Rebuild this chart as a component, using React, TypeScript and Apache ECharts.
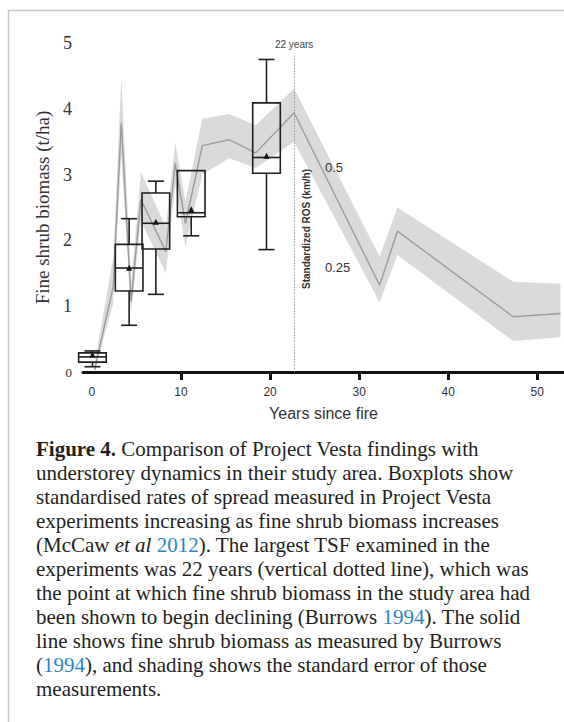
import React, { useEffect, useRef } from "react";
import * as echarts from "echarts";

// ---- axis ticks ----
const xTickLabels = [0, 10, 20, 30, 40, 50];
const xTickMarks = [10, 20, 30, 40, 50];

// ---- Burrows (1994) fine shrub biomass: line + standard error band ----
const bandYears = [0.3, 2.4, 3.3, 4.4, 5.5, 8.3, 9.35, 10.5, 12.4, 15.4, 18.4, 22.7, 32.3, 34.3, 47.3, 52.6];
const biomassMean = [0.03, 1.3, 3.78, 1.07, 2.62, 1.83, 3.17, 2.26, 3.44, 3.53, 3.33, 3.94, 1.32, 2.14, 0.84, 0.89];
const biomassUpper = [0.12, 1.75, 4.47, 1.35, 3.04, 2.2, 3.5, 2.6, 3.85, 3.92, 3.75, 4.31, 1.75, 2.5, 1.37, 1.34];
const biomassLower = [0.0, 1.05, 3.3, 0.9, 2.3, 1.5, 2.85, 1.9, 3.0, 3.25, 3.1, 3.5, 1.06, 1.78, 0.47, 0.53];

// ---- Project Vesta boxplots ----
const boxYears = [0.06, 4.18, 7.18, 11.15, 19.6];
const boxMin = [0.08, 0.71, 1.18, 2.07, 1.86];
const boxQ1 = [0.15, 1.23, 1.87, 2.36, 3.02];
const boxMedian = [0.23, 1.58, 2.26, 2.42, 3.26];
const boxQ3 = [0.29, 1.94, 2.72, 3.06, 4.09];
const boxMax = [0.32, 2.33, 2.9, 3.06, 4.75];
const boxMean = [0.25, 1.57, 2.27, 2.46, 3.27];

const dottedLineYear = 22.7;
const dottedLineTop = 4.84;

const captionLines = [
  "{b|Figure 4.} Comparison of Project Vesta findings with",
  "understorey dynamics in their study area. Boxplots show",
  "standardised rates of spread measured in Project Vesta",
  "experiments increasing as fine shrub biomass increases",
  "(McCaw {i|et al} {l|2012}). The largest TSF examined in the",
  "experiments was 22 years (vertical dotted line), which was",
  "the point at which fine shrub biomass in the study area had",
  "been shown to begin declining (Burrows {l|1994}). The solid",
  "line shows fine shrub biomass as measured by Burrows",
  "({l|1994}), and shading shows the standard error of those",
  "measurements.",
];

const BOX_W = 3.1;
const CAP_W = 1.8;
const SERIF = "Liberation Serif";
const SANS = "Liberation Sans";

export default function App() {
  const ref = useRef<HTMLDivElement>(null);

  useEffect(() => {
    document.body.style.margin = "0";
    const chart = echarts.init(ref.current!, null, { renderer: "svg" });

    const bandData = bandYears.map((t, i) => [t, biomassLower[i], biomassUpper[i]]);
    const meanData = bandYears.map((t, i) => [t, biomassMean[i]]);
    const boxData = boxYears.map((t, i) => [
      t,
      boxMin[i],
      boxQ1[i],
      boxMedian[i],
      boxQ3[i],
      boxMax[i],
      boxMean[i],
    ]);

    const capFont = 21;
    const rich = {
      b: { fontFamily: SERIF, fontSize: capFont, fontWeight: "bold", fill: "#231f20" },
      i: { fontFamily: SERIF, fontSize: capFont, fontStyle: "italic", fill: "#231f20" },
      l: { fontFamily: SERIF, fontSize: capFont, fill: "#2a86c0" },
    };

    const captionGraphics = captionLines.map((line, k) => ({
      type: "text",
      x: 36,
      y: 448.5 + k * 24,
      z: 100,
      silent: true,
      style: {
        text: line,
        fontFamily: SERIF,
        fontSize: capFont,
        fill: "#231f20",
        verticalAlign: "middle",
        align: "left",
        rich,
      },
    }));

    const stroke = "#1e1e1e";

    const option: any = {
      animation: false,
      grid: { left: 83, right: 0, top: 43, bottom: 350, containLabel: false },
      xAxis: {
        type: "value",
        min: -1,
        max: 53,
        splitLine: { show: false },
        axisLine: { show: true, lineStyle: { color: "#111", width: 3 } },
        axisTick: {
          show: true,
          customValues: xTickMarks,
          length: 8,
          lineStyle: { color: "#111", width: 3 },
        },
        axisLabel: {
          customValues: xTickLabels,
          margin: 14,
          fontSize: 12,
          color: "#333",
          fontFamily: SANS,
        },
        name: "Years since fire",
        nameLocation: "middle",
        nameGap: 33,
        nameTextStyle: { fontSize: 16, color: "#333", fontFamily: SANS },
      },
      yAxis: {
        type: "value",
        min: 0,
        max: 5,
        interval: 1,
        splitLine: { show: false },
        axisLine: { show: false },
        axisTick: { show: false },
        axisLabel: {
          margin: 11,
          formatter: (v: number) => (v === 0 ? "{s|0}" : "{n|" + v + "}"),
          rich: {
            s: { fontSize: 13, fontFamily: SERIF, color: "#333" },
            n: { fontSize: 18, fontFamily: SERIF, color: "#333" },
          },
        },
        name: "Fine shrub biomass (t/ha)",
        nameLocation: "middle",
        nameGap: 26,
        nameTextStyle: { fontSize: 19, color: "#333", fontFamily: SERIF },
      },
      graphic: [
        {
          type: "polyline",
          silent: true,
          z: 100,
          shape: { points: [[8.5, 722], [8.5, 10.5], [564, 10.5]] },
          style: { stroke: "#c6c6c6", lineWidth: 1.5, fill: "none" },
        },
        {
          type: "text",
          x: 306,
          y: 229,
          z: 100,
          rotation: Math.PI / 2,
          silent: true,
          style: {
            text: "Standardized ROS (km/h)",
            fontFamily: SANS,
            fontSize: 10,
            fontWeight: "bold",
            fill: "#333",
            align: "center",
            verticalAlign: "middle",
          },
        },
        {
          type: "text",
          x: 325,
          y: 167,
          z: 100,
          silent: true,
          style: { text: "0.5", fontFamily: SANS, fontSize: 13, fill: "#333", verticalAlign: "middle" },
        },
        {
          type: "text",
          x: 325,
          y: 267,
          z: 100,
          silent: true,
          style: { text: "0.25", fontFamily: SANS, fontSize: 13, fill: "#333", verticalAlign: "middle" },
        },
        ...captionGraphics,
      ],
      series: [
        {
          name: "band",
          type: "custom",
          data: bandData,
          encode: { x: 0, y: [1, 2] },
          silent: true,
          z: 1,
          renderItem: (params: any, api: any) => {
            if (params.dataIndex !== 0) return { type: "group", children: [] };
            const upper = bandData.map((d) => api.coord([d[0], d[2]]));
            const lower = bandData.map((d) => api.coord([d[0], d[1]])).reverse();
            return {
              type: "polygon",
              shape: { points: upper.concat(lower) },
              style: { fill: "#dadada", stroke: "none" },
            };
          },
        },
        {
          name: "mean",
          type: "line",
          data: meanData,
          symbol: "none",
          silent: true,
          lineStyle: { color: "#9a9a9a", width: 1.4 },
          z: 2,
          markLine: {
            silent: true,
            symbol: "none",
            lineStyle: { color: "#9a9a9a", type: [1.5, 1.5], width: 1 },
            label: {
              show: true,
              position: "end",
              formatter: "22 years",
              fontSize: 10,
              color: "#444",
              fontFamily: SANS,
              distance: 4,
            },
            data: [[{ coord: [dottedLineYear, 0] }, { coord: [dottedLineYear, dottedLineTop] }]],
          },
        },
        {
          name: "boxes",
          type: "custom",
          data: boxData,
          encode: { x: 0, y: [1, 5] },
          z: 5,
          silent: true,
          renderItem: (params: any, api: any) => {
            const t = api.value(0);
            const vMin = api.value(1);
            const vQ1 = api.value(2);
            const vMed = api.value(3);
            const vQ3 = api.value(4);
            const vMax = api.value(5);
            const vMean = api.value(6);
            const half = api.size([BOX_W, 0])[0] / 2;
            const capHalf = api.size([CAP_W, 0])[0] / 2;
            const pMin = api.coord([t, vMin]);
            const pQ1 = api.coord([t, vQ1]);
            const pMed = api.coord([t, vMed]);
            const pQ3 = api.coord([t, vQ3]);
            const pMax = api.coord([t, vMax]);
            const pMean = api.coord([t, vMean]);
            const cx = pMed[0];
            const ls = { stroke, lineWidth: 1.6, fill: "none" };
            const children: any[] = [
              {
                type: "rect",
                shape: { x: cx - half, y: pQ3[1], width: half * 2, height: pQ1[1] - pQ3[1] },
                style: ls,
              },
              {
                type: "line",
                shape: { x1: cx - half, y1: pMed[1], x2: cx + half, y2: pMed[1] },
                style: ls,
              },
            ];
            if (vMax > vQ3) {
              children.push(
                { type: "line", shape: { x1: cx, y1: pQ3[1], x2: cx, y2: pMax[1] }, style: ls },
                { type: "line", shape: { x1: cx - capHalf, y1: pMax[1], x2: cx + capHalf, y2: pMax[1] }, style: ls }
              );
            }
            if (vMin < vQ1) {
              children.push(
                { type: "line", shape: { x1: cx, y1: pQ1[1], x2: cx, y2: pMin[1] }, style: ls },
                { type: "line", shape: { x1: cx - capHalf, y1: pMin[1], x2: cx + capHalf, y2: pMin[1] }, style: ls }
              );
            }
            const my = pMean[1];
            children.push({
              type: "polygon",
              shape: {
                points: [
                  [cx, my - 4],
                  [cx - 3, my + 2],
                  [cx + 3, my + 2],
                ],
              },
              style: { fill: "#111", stroke: "none" },
            });
            return { type: "group", children };
          },
        },
      ],
    };

    chart.setOption(option);
    return () => chart.dispose();
  }, []);

  return <div ref={ref} style={{ width: 564, height: 722 }} />;
}
